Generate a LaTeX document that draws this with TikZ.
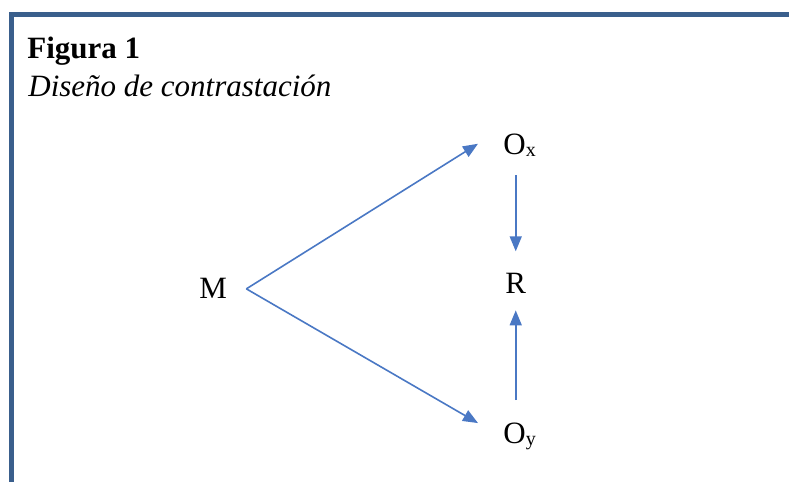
\documentclass[tikz,border=0pt]{standalone}
\usepackage{fontspec}
\setmainfont{Liberation Serif}
\usetikzlibrary{arrows.meta, calc}

\definecolor{framecol}{RGB}{58,95,140}
\definecolor{arrowcol}{RGB}{74,120,196}
\newcommand{\subidx}[1]{\raisebox{-1pt}{\fontsize{10}{12}\selectfont #1}}

\begin{document}
\begin{tikzpicture}[x=0.5pt, y=-0.5pt, >=Stealth,
    every node/.style={font=\fontsize{15.5}{18}\selectfont, inner sep=0pt},
    arr/.style={->, draw=arrowcol, line width=0.8pt, >={Triangle[length=7.5pt, width=6pt]}},
    frame/.style={draw=framecol, line width=2.6pt}]
  \useasboundingbox (0,0) rectangle (789,482);

  % frame of the figure (top and left only)
  \draw[frame] (11.5,482) -- (11.5,14.5) -- (789,14.5);

  % caption
  \node[anchor=base west] (title) at (27,59) {\textbf{Figura 1}};
  \node[anchor=base west] (subtitle) at (28,97) {\textit{Diseño de contrastación}};

  % design
  \node[anchor=base west] (M) at (199,298) {M};
  \node[anchor=base west] (Ox) at (503,155) {O\subidx{x}};
  \node[anchor=base west] (R) at (505,293) {R};
  \node[anchor=base west] (Oy) at (503,443) {O\subidx{y}};

  \draw[arr] ($(M.east)+(19,1)$) -- ($(Ox.west)+(-25,-2)$);
  \draw[arr] ($(M.east)+(19,1)$) -- ($(Oy.north west)+(-25,1)$);
  \draw[arr, shorten <=9pt, shorten >=10.5pt] (R.north |- Ox.south) -- (R.north);
  \draw[arr, shorten <=11pt, shorten >=8.5pt] (R.south |- Oy.north) -- (R.south);
\end{tikzpicture}
\end{document}
